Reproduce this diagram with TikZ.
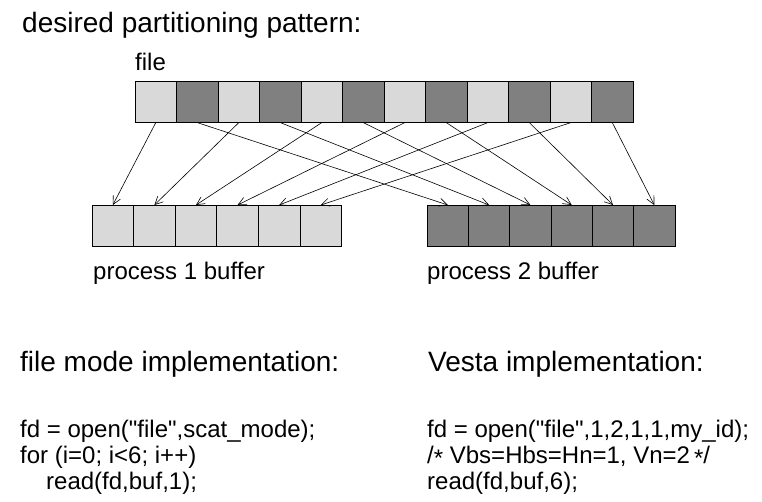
\documentclass[tikz,border=0pt]{standalone}
\usepackage{fontspec}
\setmainfont{Liberation Sans}[Ligatures=TeXOff]
\usetikzlibrary{arrows.meta}
\definecolor{lightcell}{RGB}{217,217,217}
\definecolor{darkcell}{RGB}{128,128,128}
\begin{document}
\begin{tikzpicture}[x=1pt,y=-1pt,
  cell/.style={draw=black,line width=0.8pt,minimum width=41.6pt,minimum height=41.6pt,
    inner sep=0pt,outer sep=0pt,anchor=north west},
  lightbox/.style={cell,fill=lightcell},
  darkbox/.style={cell,fill=darkcell},
  link/.style={line width=0.6pt,-{Straight Barb[length=8pt,width=8pt]}},
  headtext/.style={anchor=base west,inner sep=0pt,font=\fontsize{28}{32}\selectfont},
  plaintext/.style={anchor=base west,inner sep=0pt,font=\fontsize{24}{28}\selectfont}]
\useasboundingbox (0,0) rectangle (762,501);

% headings and labels
\node[headtext] (title) at (22,32) {desired partitioning pattern:};
\node[plaintext] (filelabel) at (135,70) {file};
\node[plaintext] (p1label) at (93,279) {process 1 buffer};
\node[plaintext] (p2label) at (427,279) {process 2 buffer};

% the file: alternating light and dark blocks
\foreach \i in {0,...,11}{
  \pgfmathtruncatemacro{\odd}{mod(\i,2)}
  \ifnum\odd=0
    \node[lightbox] (f\i) at ({135+41.5*\i},81) {};
  \else
    \node[darkbox] (f\i) at ({135+41.5*\i},81) {};
  \fi
}

% the two process buffers
\foreach \j in {0,...,5}{
  \node[lightbox] (a\j) at ({92+41.6*\j},205) {};
  \node[darkbox] (b\j) at ({427+41.3*\j},205) {};
}

% light blocks go to process 1, dark blocks to process 2
\foreach \j in {0,...,5}{
  \pgfmathtruncatemacro{\l}{2*\j}
  \pgfmathtruncatemacro{\d}{2*\j+1}
  \draw[link] (f\l.south) -- (a\j.north);
  \draw[link] (f\d.south) -- (b\j.north);
}

% implementations
\node[headtext] (modehead) at (20,371) {file mode implementation:};
\node[headtext] (vestahead) at (428,371) {Vesta implementation:};

\node[plaintext] (m1) at (20,437) {fd = open("file",scat\_mode);};
\node[plaintext] (m2) at (20,463) {for (i=0; i<6; i++)};
\node[plaintext] (m3) at (46,489) {read(fd,buf,1);};

\node[plaintext] (v1) at (427,437) {fd = open("file",1,2,1,1,my\_id);};
\node[plaintext] (v2) at (427,463) {/\raisebox{-0.3ex}{*} Vbs=Hbs=Hn=1, Vn=2\,\raisebox{-0.3ex}{*}/};
\node[plaintext] (v3) at (427,489) {read(fd,buf,6);};
\end{tikzpicture}
\end{document}
